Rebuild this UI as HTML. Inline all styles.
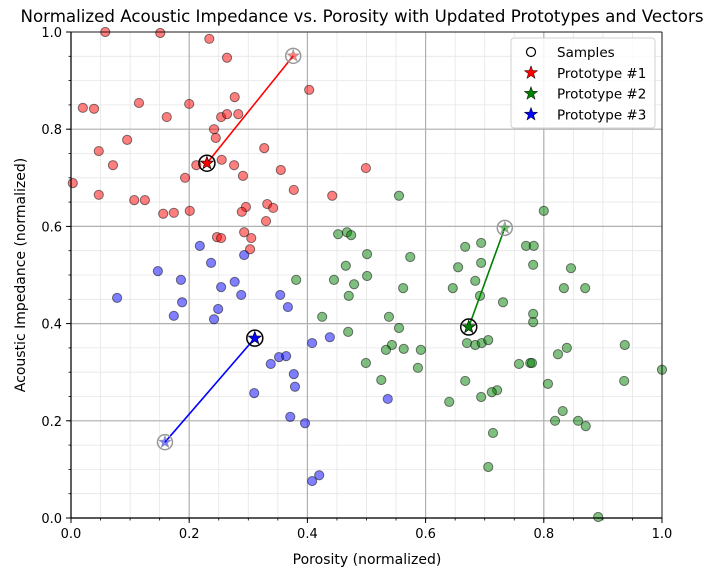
<!DOCTYPE html>
<html><head><meta charset="utf-8"><style>
html,body{margin:0;padding:0;background:#fff;width:720px;height:573px;overflow:hidden}
svg text{font-family:"DejaVu Sans","Liberation Sans",sans-serif;fill:#000}
</style></head><body>
<svg id="chart" width="720" height="573" viewBox="0 0 720 573" xmlns="http://www.w3.org/2000/svg">
<text x="362" y="22" text-anchor="middle" font-size="16.6" textLength="683" lengthAdjust="spacingAndGlyphs">Normalized Acoustic Impedance vs. Porosity with Updated Prototypes and Vectors</text>
<g id="grid"></g><g id="marks"></g><g id="axes"></g>
<text x="367" y="564" text-anchor="middle" font-size="14">Porosity (normalized)</text>
<text transform="translate(25,275) rotate(-90)" text-anchor="middle" font-size="14">Acoustic Impedance (normalized)</text>
<g id="legend"></g>
</svg>
<script>
const xTicks=[0,0.2,0.4,0.6,0.8,1.0];
const yTicks=[0,0.2,0.4,0.6,0.8,1.0];
const tickLabels=["0.0","0.2","0.4","0.6","0.8","1.0"];
const redX=[.058,.151,.234,.264,.403,.277,.020,.039,.115,.200,.162,.254,.264,.283,.242,.245,.095,.327,.047,.071,.212,.255,.276,.291,.355,.193,.003,.377,.442,.499,.047,.107,.125,.156,.174,.201,.296,.289,.332,.342,.330,.293,.305,.247,.254,.303];
const redY=[1.0,.998,.986,.947,.881,.866,.844,.842,.854,.852,.825,.825,.831,.831,.800,.782,.778,.761,.755,.726,.726,.737,.726,.704,.716,.700,.689,.675,.663,.720,.665,.654,.654,.626,.628,.632,.640,.630,.646,.638,.611,.588,.576,.578,.576,.553];
const blueX=[.218,.237,.147,.186,.254,.277,.288,.078,.188,.249,.174,.242,.293,.354,.367,.408,.438,.338,.352,.364,.377,.379,.310,.371,.396,.408,.420,.536];
const blueY=[.560,.525,.508,.490,.475,.486,.459,.453,.444,.430,.416,.409,.541,.459,.434,.360,.372,.317,.331,.333,.296,.270,.257,.208,.195,.076,.088,.245];
const greenX=[.555,.800,.452,.467,.474,.667,.694,.770,.783,.501,.574,.465,.655,.694,.782,.846,.445,.479,.501,.684,.562,.646,.834,.870,.470,.692,.731,.782,.782,.425,.538,.555,.469,.670,.684,.695,.706,.543,.533,.563,.592,.937,.839,.824,.499,.587,.758,.777,.780,1.0,.525,.667,.807,.936,.721,.712,.694,.640,.832,.819,.858,.871,.714,.706,.892,.381];
const greenY=[.663,.632,.584,.588,.582,.558,.566,.560,.560,.543,.537,.519,.516,.525,.521,.514,.490,.481,.498,.488,.473,.473,.473,.473,.457,.457,.444,.420,.403,.414,.414,.391,.383,.360,.356,.360,.366,.356,.346,.348,.346,.356,.350,.337,.319,.309,.317,.319,.319,.305,.284,.282,.276,.282,.263,.259,.249,.239,.220,.200,.200,.189,.175,.105,.002,.490];
const protoNewX=[.230,.673,.311];
const protoNewY=[.730,.393,.370];
const protoOldX=[.376,.734,.159];
const protoOldY=[.951,.597,.156];
const protoColors=["#ff0000","#008000","#0000ff"];

const L=71,R=662,T=32,B=518;
const sx=v=>L+v*(R-L), sy=v=>B-v*(B-T);
const NS="http://www.w3.org/2000/svg";
function mk(tag,attrs,parent){const e=document.createElementNS(NS,tag);for(const k in attrs)e.setAttribute(k,attrs[k]);parent.appendChild(e);return e;}
const grid=document.getElementById('grid'),marks=document.getElementById('marks'),axes=document.getElementById('axes'),legend=document.getElementById('legend');
for(let i=0;i<=20;i++){const v=i*0.05;
 let g=mk('line',{x1:sx(v),x2:sx(v),y1:T,y2:B,stroke:'#e6e6e6','stroke-width':0.8},grid);
 
 let h=mk('line',{x1:L,x2:R,y1:sy(v),y2:sy(v),stroke:'#e6e6e6','stroke-width':0.8},grid);
 
 let t1=mk('line',{x1:sx(v),x2:sx(v),y1:B,y2:B+2.5,stroke:'#000','stroke-width':0.8},axes);
 
 let t2=mk('line',{x1:L-2.5,x2:L,y1:sy(v),y2:sy(v),stroke:'#000','stroke-width':0.8},axes);
 
}
xTicks.forEach((v,i)=>{
 let g=mk('line',{x1:sx(v),x2:sx(v),y1:T,y2:B,stroke:'#b0b0b0','stroke-width':1.2},grid);
 
 let t=mk('line',{x1:sx(v),x2:sx(v),y1:B,y2:B+5,stroke:'#000','stroke-width':1},axes);
 
 let l=mk('text',{x:sx(v),y:B+20,'text-anchor':'middle','font-size':13},axes);l.textContent=tickLabels[i];
 
});
yTicks.forEach((v,i)=>{
 let g=mk('line',{x1:L,x2:R,y1:sy(v),y2:sy(v),stroke:'#b0b0b0','stroke-width':1.2},grid);
 
 let t=mk('line',{x1:L-5,x2:L,y1:sy(v),y2:sy(v),stroke:'#000','stroke-width':1},axes);
 
 let l=mk('text',{x:L-9,y:sy(v)+5,'text-anchor':'end','font-size':13},axes);l.textContent=tickLabels[i];
 
});
let ax=mk('path',{d:`M${L},${T}V${B}H${R}`,fill:'none',stroke:'#000','stroke-width':1.2},axes);

let topBorder=mk('line',{x1:L,x2:R,y1:T,y2:T,stroke:'#000','stroke-width':0.8},axes);

let rb=mk('line',{x1:R,x2:R,y1:T,y2:B,stroke:'#000','stroke-width':0.8},axes);


function dots(X,Y,fill,name){for(let i=0;i<X.length;i++){
 const c=mk('circle',{cx:sx(X[i]),cy:sy(Y[i]),r:4.6,fill:fill,'fill-opacity':0.5,stroke:'#000','stroke-opacity':0.5,'stroke-width':1},marks);
 }}
dots(redX,redY,'#ff0000','red-sample-point');
dots(blueX,blueY,'#0000ff','blue-sample-point');
dots(greenX,greenY,'#008000','green-sample-point');

function star(cx,cy,r,attrs,parent){let p='';for(let i=0;i<10;i++){const a=-Math.PI/2+i*Math.PI/5,rr=i%2?r*0.4:r;p+=(i?'L':'M')+(cx+rr*Math.cos(a)).toFixed(2)+','+(cy+rr*Math.sin(a)).toFixed(2);}return mk('path',Object.assign({d:p+'Z'},attrs),parent);}
for(let k=0;k<3;k++){
 const x0=sx(protoOldX[k]),y0=sy(protoOldY[k]),x1=sx(protoNewX[k]),y1=sy(protoNewY[k]);
 const ln=mk('line',{x1:x0,y1:y0,x2:x1,y2:y1,stroke:protoColors[k],'stroke-width':1.6},marks);
 
 const oc=mk('circle',{cx:x0,cy:y0,r:7.5,fill:'none',stroke:'#999','stroke-width':1.5},marks);
 
 const os=star(x0,y0,6.5,{fill:protoColors[k],'fill-opacity':0.5,stroke:'#999','stroke-width':0.6},marks);
 
 const nc=mk('circle',{cx:x1,cy:y1,r:8,fill:'none',stroke:'#000','stroke-width':1.5},marks);
 
 const ns=star(x1,y1,7,{fill:protoColors[k],stroke:'#000','stroke-width':0.6},marks);
 
}
const lb=mk('rect',{x:511,y:38,width:144,height:90,rx:3,fill:'#fff','fill-opacity':0.85,stroke:'#d0d0d0','stroke-width':1},legend);

const lc=mk('circle',{cx:531,cy:52,r:4.5,fill:'none',stroke:'#000','stroke-width':1.2},legend);

const labels=["Samples","Prototype #1","Prototype #2","Prototype #3"];
labels.forEach((s,i)=>{const t=mk('text',{x:557,y:57+i*20.8,'font-size':13.5},legend);t.textContent=s;
 
 if(i>0){const st=star(531,52+i*20.8,7,{fill:protoColors[i-1],stroke:'#000','stroke-width':0.5},legend);
 }});
</script>
</body></html>
